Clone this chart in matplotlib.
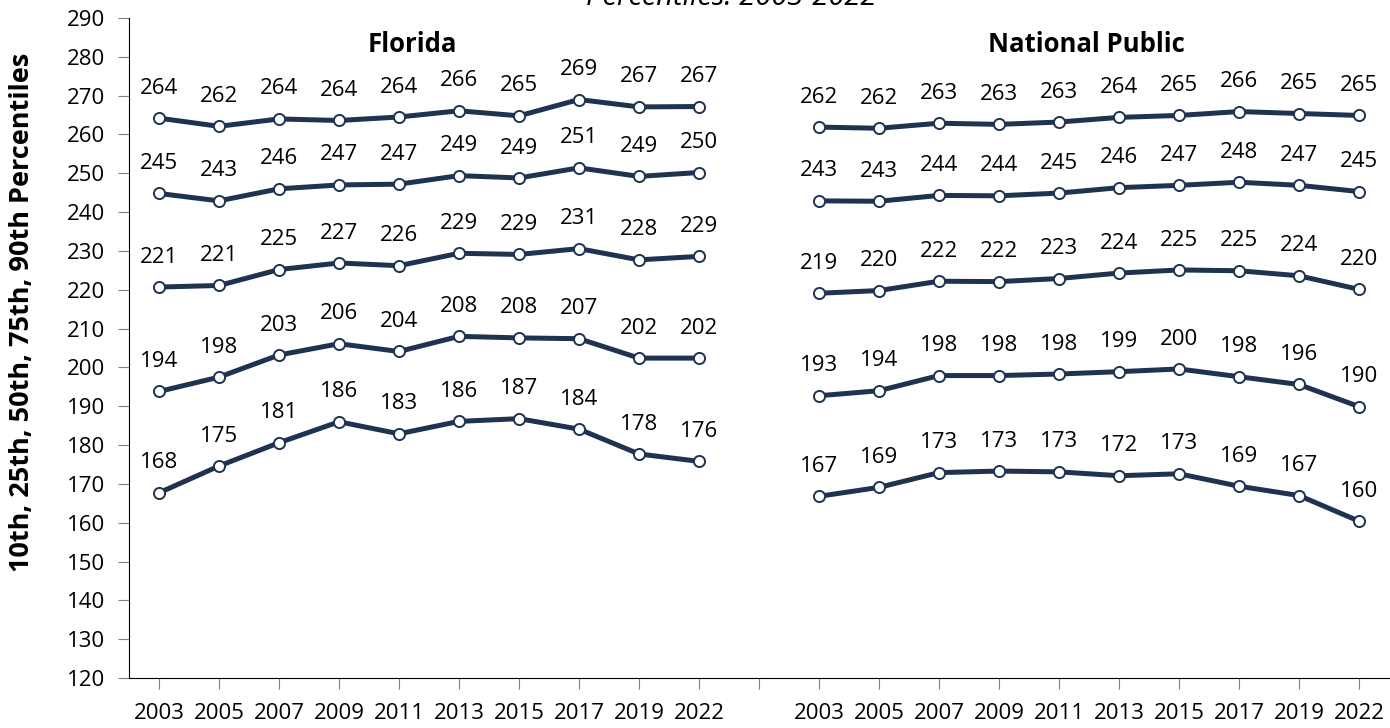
import matplotlib
matplotlib.use("Agg")
import matplotlib.pyplot as plt

# valores
anos = ['2003', '2005', '2007', '2009', '2011', '2013', '2015', '2017', '2019', '2022']

florida_p90 = [264.2, 262.1, 264.0, 263.6, 264.5, 266.1, 264.8, 269.0, 267.1, 267.2]
florida_p75 = [244.8, 242.9, 246.0, 247.0, 247.2, 249.4, 248.8, 251.4, 249.2, 250.2]
florida_p50 = [220.7, 221.1, 225.2, 226.9, 226.2, 229.4, 229.1, 230.6, 227.7, 228.6]
florida_p25 = [193.8, 197.5, 203.2, 206.1, 204.1, 208.0, 207.6, 207.4, 202.4, 202.4]
florida_p10 = [167.7, 174.6, 180.6, 186.0, 182.9, 186.1, 186.8, 184.1, 177.7, 175.8]

nacional_p90 = [261.9, 261.6, 262.9, 262.6, 263.2, 264.4, 264.9, 265.9, 265.4, 264.9]
nacional_p75 = [242.9, 242.8, 244.3, 244.2, 244.9, 246.3, 246.9, 247.7, 246.9, 245.3]
nacional_p50 = [219.1, 219.8, 222.2, 222.1, 222.9, 224.3, 225.1, 224.9, 223.6, 220.1]
nacional_p25 = [192.7, 194.0, 197.9, 197.9, 198.3, 198.9, 199.6, 197.6, 195.6, 189.9]
nacional_p10 = [166.8, 169.1, 172.9, 173.3, 173.1, 172.1, 172.6, 169.4, 167.0, 160.4]

cor = '#1f3350'
plt.rcParams['font.family'] = ['Open Sans', 'DejaVu Sans']

fig = plt.figure(figsize=(13.9, 7.28), dpi=100)
ax = fig.add_axes([129 / 1390, 1 - 678 / 728, 1260 / 1390, 660 / 728])

x_fl = list(range(0, 10))
x_np = list(range(11, 21))

def desenhar(xs, serie):
    ax.plot(xs, serie, color=cor, lw=3.6, marker='o', ms=8,
            mfc='white', mec=cor, mew=1.4, zorder=3, clip_on=False)
    for x, v in zip(xs, serie):
        ax.annotate(str(int(round(v))), (x, v), xytext=(0, 14), textcoords='offset points',
                    ha='center', va='bottom', fontsize=16, color='black')

for serie in [florida_p90, florida_p75, florida_p50, florida_p25, florida_p10]:
    desenhar(x_fl, serie)
for serie in [nacional_p90, nacional_p75, nacional_p50, nacional_p25, nacional_p10]:
    desenhar(x_np, serie)

ax.set_xlim(-0.5, 20.5)
ax.set_ylim(120, 290)
ax.set_yticks(range(120, 291, 10))
ax.set_xticks(range(21))
ax.set_xticklabels(anos + [''] + anos)
ax.tick_params(axis='both', labelsize=16, length=8, color='#808080', direction='out')
ax.tick_params(axis='x', pad=10)
ax.tick_params(axis='y', pad=9)
ax.spines['top'].set_visible(False)
ax.spines['right'].set_visible(False)
ax.spines['left'].set_color('black')
ax.spines['bottom'].set_color('black')

ax.text(4.23, 283.1, 'Florida', ha='center', va='center', fontsize=18.5, fontweight='bold')
ax.text(15.45, 283.1, 'National Public', ha='center', va='center', fontsize=18.5, fontweight='bold')

fig.text(22 / 1390, 1 - 312 / 728, '10th, 25th, 50th, 75th, 90th Percentiles', rotation=90,
         ha='center', va='center', fontsize=19.5, fontweight='bold')
fig.text(731 / 1390, 1 - 5 / 728, 'Percentiles: 2003-2022', ha='center', va='baseline',
         fontsize=21, style='italic')

fig.savefig('out.png', dpi=100)
